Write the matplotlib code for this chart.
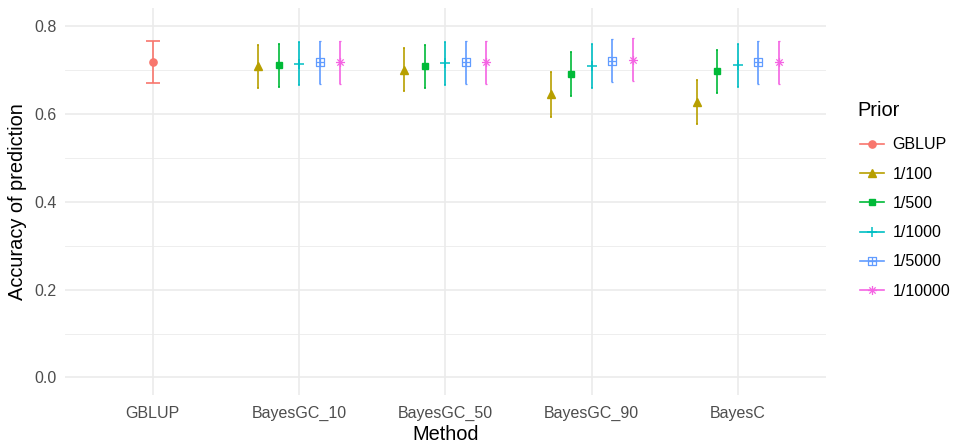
import matplotlib
matplotlib.use("Agg")
import matplotlib.pyplot as plt
import numpy as np
from matplotlib.path import Path
from matplotlib.lines import Line2D

plt.rcParams['font.family'] = ['Liberation Sans', 'DejaVu Sans']

# Methods on the x axis and prior settings used as series
methods = ['GBLUP', 'BayesGC_10', 'BayesGC_50', 'BayesGC_90', 'BayesC']
priors = ['GBLUP', '1/100', '1/500', '1/1000', '1/5000', '1/10000']
bayes_methods = ['BayesGC_10', 'BayesGC_50', 'BayesGC_90', 'BayesC']

gblup_acc = [0.718]
gblup_err = [0.048]

acc_1_100 = [0.709, 0.701, 0.645, 0.628]
err_1_100 = [0.049, 0.049, 0.051, 0.050]
acc_1_500 = [0.712, 0.709, 0.692, 0.698]
err_1_500 = [0.049, 0.049, 0.050, 0.049]
acc_1_1000 = [0.715, 0.716, 0.709, 0.712]
err_1_1000 = [0.049, 0.049, 0.050, 0.049]
acc_1_5000 = [0.718, 0.718, 0.722, 0.718]
err_1_5000 = [0.049, 0.049, 0.049, 0.049]
acc_1_10000 = [0.718, 0.718, 0.724, 0.718]
err_1_10000 = [0.049, 0.049, 0.049, 0.049]

colors = ['#F8766D', '#B79F00', '#00BA38', '#00BFC4', '#619CFF', '#F564E3']

# square with a cross inside, and an asterisk (ggplot shapes 12 and 8)
boxplus = Path([(-1, -1), (1, -1), (1, 1), (-1, 1), (-1, -1),
                (-1, 0), (1, 0), (0, -1), (0, 1)],
               [Path.MOVETO, Path.LINETO, Path.LINETO, Path.LINETO, Path.CLOSEPOLY,
                Path.MOVETO, Path.LINETO, Path.MOVETO, Path.LINETO])
asterisk = Path([(-1, 0), (1, 0), (0, -1), (0, 1),
                 (-0.7, -0.7), (0.7, 0.7), (-0.7, 0.7), (0.7, -0.7)],
                [Path.MOVETO, Path.LINETO] * 4)

marker_styles = [
    dict(marker='o', ms=5.2),
    dict(marker='^', ms=5.8),
    dict(marker='s', ms=4.6),
    dict(marker='+', ms=7, mew=1.1),
    dict(marker=boxplus, ms=5.5, mfc='none', mew=0.9),
    dict(marker=asterisk, ms=6.5, mfc='none', mew=0.9),
]

series = [
    (gblup_acc, gblup_err, ['GBLUP']),
    (acc_1_100, err_1_100, bayes_methods),
    (acc_1_500, err_1_500, bayes_methods),
    (acc_1_1000, err_1_1000, bayes_methods),
    (acc_1_5000, err_1_5000, bayes_methods),
    (acc_1_10000, err_1_10000, bayes_methods),
]

fig = plt.figure(figsize=(9.59, 4.44), dpi=100)
ax = fig.add_axes([65 / 959, 1 - 395 / 444, 760.7 / 959, 387 / 444])

dodge = 0.7
n_dodge = 5
handles = []
for k, (acc, err, cats) in enumerate(series):
    xpos = np.array([methods.index(c) + 1 for c in cats], dtype=float)
    if k > 0:
        xpos += (k - 1 - (n_dodge - 1) / 2) * dodge / n_dodge
    cap = 5 if k == 0 else 1
    ax.errorbar(xpos, acc, yerr=err, color=colors[k], ls='none',
                elinewidth=1.2, capsize=cap, capthick=1.2, zorder=3,
                **marker_styles[k])
    handles.append(Line2D([0], [0], color=colors[k], lw=1.2, **marker_styles[k]))

ax.set_xlim(0.4, 5.6)
ax.set_ylim(-0.04, 0.842)
ax.set_xticks(range(1, len(methods) + 1))
ax.set_xticklabels(methods)
ax.set_yticks([0, 0.2, 0.4, 0.6, 0.8])
ax.set_yticks([0.1, 0.3, 0.5, 0.7], minor=True)
ax.yaxis.set_major_formatter(matplotlib.ticker.FormatStrFormatter('%.1f'))

ax.grid(True, which='major', color='#EBEBEB', lw=1.2)
ax.grid(True, which='minor', axis='y', color='#EBEBEB', lw=0.6)
ax.set_axisbelow(True)
for s in ax.spines.values():
    s.set_visible(False)
ax.tick_params(which='both', length=0, labelsize=11.5, labelcolor='#4D4D4D')
ax.tick_params(axis='x', pad=8)
ax.tick_params(axis='y', pad=6)

ax.set_xlabel('Method', fontsize=14.4, labelpad=3)
ax.set_ylabel('Accuracy of prediction', fontsize=14.4, labelpad=5)

# legend title placed separately so the gap above the keys stays tight
fig.text(857 / 959, 1 - 110.7 / 444, 'Prior', fontsize=14.4, ha='left', va='center')
fig.legend(handles, priors, loc='upper left',
           bbox_to_anchor=(852 / 959, 1 - 129.5 / 444), frameon=False,
           fontsize=11.5, handlelength=1.5, labelspacing=0.89,
           handletextpad=0.55, borderpad=0)

fig.savefig('out.png', dpi=100, facecolor='white')
